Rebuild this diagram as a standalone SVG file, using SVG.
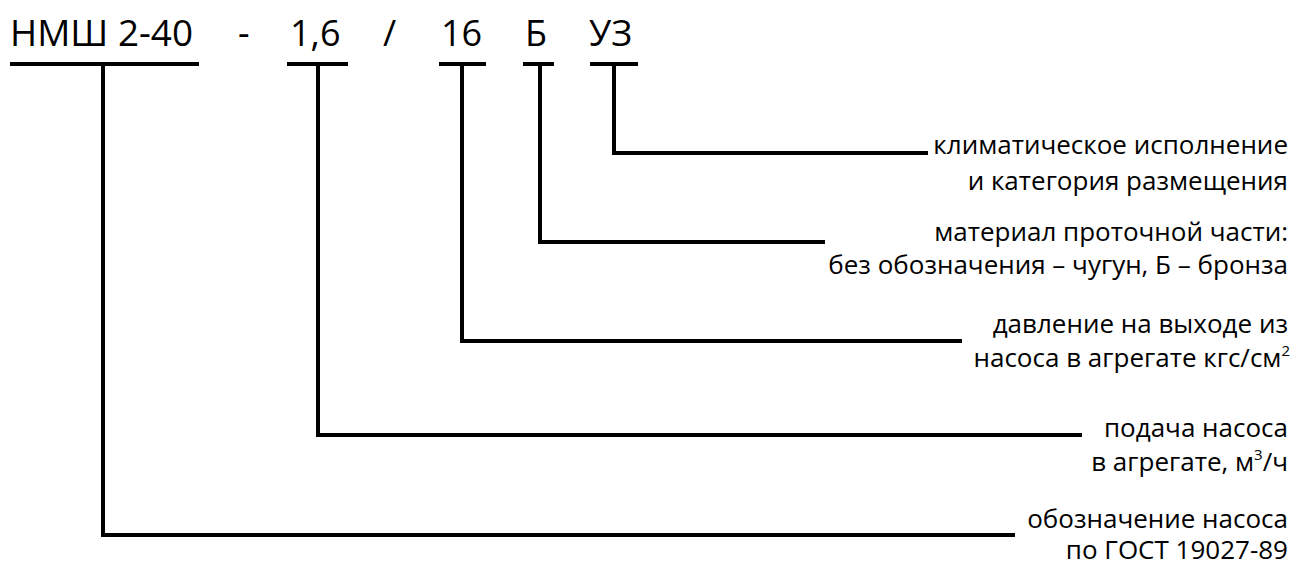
<svg xmlns="http://www.w3.org/2000/svg" width="1298" height="564" viewBox="0 0 1298 564">
<style>
.h{font-family:"Open Sans","Noto Sans",sans-serif;font-size:36px;fill:#000}
.t{font-family:"Open Sans","Noto Sans",sans-serif;font-size:26px;fill:#000;text-anchor:end}
.sup{font-size:15px}
.ln{stroke:#000;stroke-width:4;fill:none;stroke-linecap:square;stroke-linejoin:miter}
</style>
<rect width="1298" height="564" fill="#fff"/>
<g id="designation">
<text class="h" x="10" y="46" textLength="183" lengthAdjust="spacingAndGlyphs">НМШ 2-40</text>
<text class="h" x="238" y="46">-</text>
<text class="h" x="290" y="46">1,6</text>
<text class="h" x="383" y="46">/</text>
<text class="h" x="441" y="46">16</text>
<text class="h" x="525" y="46">Б</text>
<text class="h" x="589" y="46">УЗ</text>
</g>
<g id="connectors">
<line class="ln" x1="12" y1="64" x2="197" y2="64"/>
<line class="ln" x1="289" y1="64" x2="346" y2="64"/>
<line class="ln" x1="441" y1="64" x2="484" y2="64"/>
<line class="ln" x1="525" y1="64" x2="552" y2="64"/>
<line class="ln" x1="592" y1="64" x2="636" y2="64"/>
<polyline class="ln" points="614,64 614,153 926,153"/>
<polyline class="ln" points="540,64 540,242 823,242"/>
<polyline class="ln" points="462,64 462,341 960,341"/>
<polyline class="ln" points="318,64 318,435 1080,435"/>
<polyline class="ln" points="103,64 103,535 1013,535"/>
</g>
<g id="label-climate">
<text class="t" x="1288" y="154">климатическое исполнение</text>
<text class="t" x="1288" y="190">и категория размещения</text>
</g>
<g id="label-material">
<text class="t" x="1288" y="241">материал проточной части:</text>
<text class="t" x="1288" y="274">без обозначения – чугун, Б – бронза</text>
</g>
<g id="label-pressure">
<text class="t" x="1288" y="333">давление на выходе из</text>
<text class="t" x="1290" y="367">насоса в агрегате кгс/см<tspan class="sup" dy="-11">2</tspan></text>
</g>
<g id="label-flow">
<text class="t" x="1288" y="437">подача насоса</text>
<text class="t" x="1288" y="471">в агрегате, м<tspan class="sup" dy="-11">3</tspan><tspan dy="11">/ч</tspan></text>
</g>
<g id="label-pump">
<text class="t" x="1288" y="528">обозначение насоса</text>
<text class="t" x="1288" y="559">по ГОСТ 19027-89</text>
</g>
</svg>
